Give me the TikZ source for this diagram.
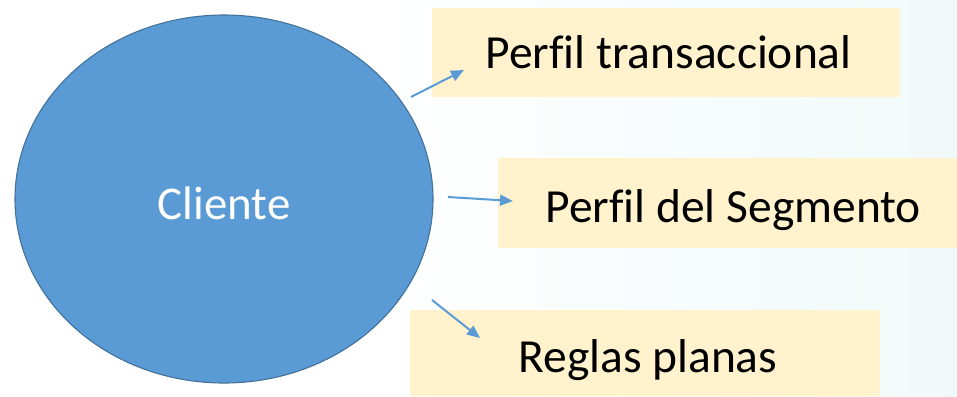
\documentclass[tikz,border=0pt]{standalone}
\usepackage{fontspec}
\setmainfont[Ligatures=NoCommon]{Carlito}
\usetikzlibrary{arrows.meta,shapes.geometric}
\definecolor{cblue}{HTML}{5B9BD5}
\definecolor{cborder}{HTML}{41719C}
\definecolor{cbox}{HTML}{FFF2CC}
\definecolor{bgcyan}{HTML}{E4F4F5}
\pgfdeclarehorizontalshading{bgshade}{100bp}{color(0bp)=(white); color(45bp)=(white); color(100bp)=(bgcyan)}
\begin{document}
\begin{tikzpicture}[x=1pt,y=-1pt,
  boxst/.style={fill=cbox,draw=none,inner sep=0pt},
  lbl/.style={font=\fontsize{47.5}{52}\selectfont,text=black,anchor=base west},
  conn/.style={draw=cblue,line width=2pt,-{Triangle[length=13pt,width=11pt]}}]
\useasboundingbox (0,0) rectangle (957,396);
\shade[shading=bgshade] (0,0) rectangle (957,396);
\node[ellipse,fill=cblue,draw=cborder,line width=1.1pt,minimum width=418pt,minimum height=368pt,inner sep=0pt] (cli) at (224,199) {};
\node[font=\fontsize{47}{50}\selectfont,text=white] (clit) at (224,203) {Cliente};
\node[boxst,minimum width=468pt,minimum height=89pt] (b1) at (666,52.5) {};
\node[boxst,minimum width=459pt,minimum height=90pt] (b2) at (727.5,203) {};
\node[boxst,minimum width=470pt,minimum height=86pt] (b3) at (645,353) {};
\node[lbl] (t1) at (482,68) {Perfil transaccional};
\node[lbl] (t2) at (542,222) {Perfil del Segmento};
\node[lbl] (t3) at (515,372) {Reglas planas};
\coordinate (a1s) at (411,97); \coordinate (a1e) at (464,70);
\coordinate (a2s) at (448,197); \coordinate (a2e) at (513,201);
\coordinate (a3s) at (432,300); \coordinate (a3e) at (480,338);
\draw[conn] (a1s) -- (a1e);
\draw[conn] (a2s) -- (a2e);
\draw[conn] (a3s) -- (a3e);
\end{tikzpicture}
\end{document}
